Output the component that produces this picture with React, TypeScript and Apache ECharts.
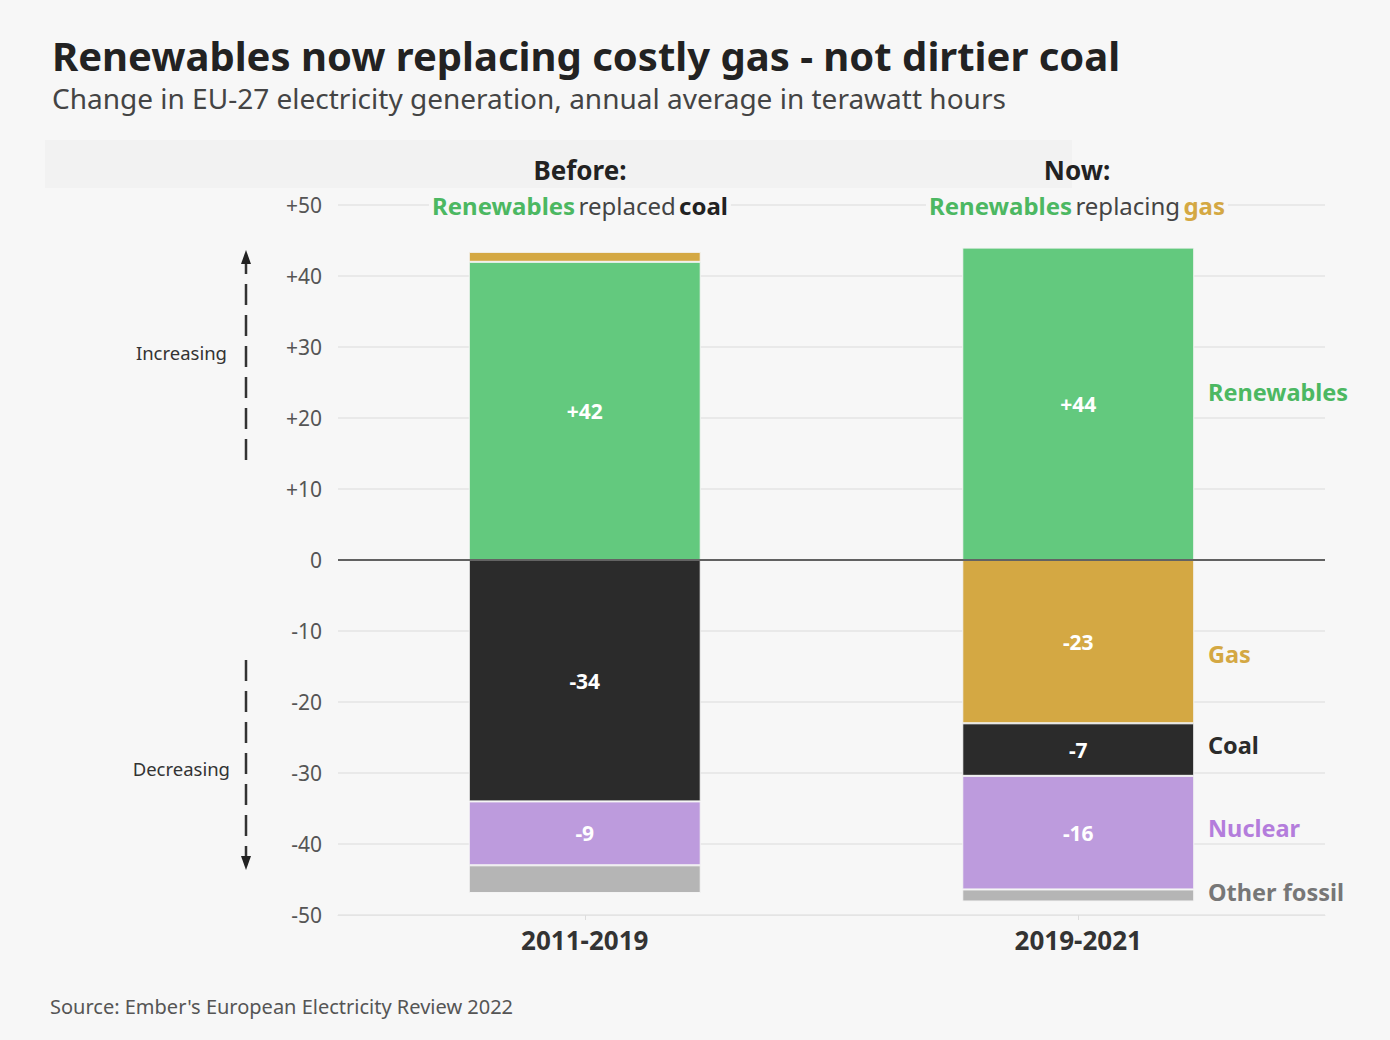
import React, { useEffect, useRef } from "react";
import * as echarts from "echarts";

const periods = ["2011-2019", "2019-2021"];
const renewables = [42, 44];
const gas = [1.4, -23];
const coal = [-34, -7.4];
const nuclear = [-9, -16];
const otherFossil = [-3.9, -1.7];
const yTicks = [-50, -40, -30, -20, -10, 0, 10, 20, 30, 40, 50];

const BG = "#f7f7f7";
const GREEN = "#63c97e";
const GREEN_T = "#4cb862";
const GOLD = "#d4a843";
const DARK = "#2b2b2b";
const PURPLE = "#bd9bdd";
const PURPLE_T = "#b47ddc";
const GREY = "#b5b5b5";
const FONT = "'Noto Sans', Lato, sans-serif";

export default function App() {
  const ref = useRef<HTMLDivElement>(null);
  useEffect(() => {
    document.body.style.margin = "0";
    const chart = echarts.init(ref.current!, null, { renderer: "svg" });
    const labelCfg = {
      show: true,
      position: "inside",
      color: "#fff",
      fontFamily: FONT,
      fontWeight: "bold",
      fontSize: 21,
      formatter: (p: any) => {
        const v = p.value as number;
        if (Math.abs(v) < 5) return "";
        const r = Math.round(v);
        return r > 0 ? "+" + r : String(r);
      },
    };
    const mk = (name: string, data: number[], color: string, extra: any = {}) => ({
      name,
      type: "bar",
      stack: "total",
      data,
      barWidth: "47%",
      itemStyle: { color, borderColor: "#f4f4f4", borderWidth: 1 },
      label: labelCfg,
      ...extra,
    });
    const rightLabel = (text: string, y: number, color: string) => ({
      type: "text",
      style: { text, x: 1208, y, fill: color, font: `bold 23.5px ${FONT}`, textVerticalAlign: "middle" },
    });
    const header = (cx: number, word: string, verb: string, last: string, lastColor: string) => [
      {
        type: "text",
        z: 10,
        style: { text: word, x: cx, y: 170, fill: "#222", font: `bold 26px ${FONT}`, textAlign: "center", textVerticalAlign: "middle" },
      },
      {
        type: "text",
        z: 10,
        style: {
          text: `{g|Renewables} {n|${verb}} {l|${last}}`,
          x: cx,
          y: 205,
          textAlign: "center",
          textVerticalAlign: "middle",
          backgroundColor: BG,
          padding: [0, 3],
          rich: {
            g: { fill: GREEN_T, font: `bold 24px ${FONT}` },
            n: { fill: "#444", font: `24px ${FONT}` },
            l: { fill: lastColor, font: `bold 24px ${FONT}` },
          },
        },
      },
    ];
    const arrowX = 246;
    chart.setOption({
      animation: false,
      backgroundColor: BG,
      textStyle: { fontFamily: FONT },
      title: {
        text: "Renewables now replacing costly gas - not dirtier coal",
        subtext: "Change in EU-27 electricity generation, annual average in terawatt hours",
        left: 47,
        top: 30,
        itemGap: 9,
        textStyle: { fontFamily: FONT, fontWeight: "bold", fontSize: 40, color: "#222" },
        subtextStyle: { fontFamily: FONT, fontSize: 28, color: "#444" },
      },
      grid: { left: 338, right: 65, top: 205, bottom: 125 },
      xAxis: {
        type: "category",
        data: periods,
        axisLine: { onZero: false, lineStyle: { color: "#e4e4e4" } },
        axisTick: { show: true, alignWithLabel: true, length: 5, lineStyle: { color: "#ddd" } },
        axisLabel: { color: "#333", fontSize: 26, fontWeight: "bold", fontFamily: FONT, margin: 12 },
      },
      yAxis: {
        type: "value",
        min: -50,
        max: 50,
        interval: 10,
        axisLine: { show: false },
        axisTick: { show: false },
        splitLine: { lineStyle: { color: "#e4e4e4", width: 1.5 } },
        axisLabel: {
          color: "#555",
          fontSize: 21,
          fontFamily: FONT,
          margin: 16,
          formatter: (v: number) => (yTicks.includes(v) && v > 0 ? "+" + v : String(v)),
        },
      },
      series: [
        mk("Renewables", renewables, GREEN, {
          markLine: {
            silent: true,
            symbol: "none",
            label: { show: false },
            lineStyle: { color: "#333", type: "solid", width: 1.5 },
            data: [{ yAxis: 0 }],
          },
        }),
        mk("Gas", gas, GOLD),
        mk("Coal", coal, DARK),
        mk("Nuclear", nuclear, PURPLE),
        mk("Other fossil", otherFossil, GREY),
      ],
      graphic: [
        { type: "rect", silent: true, z: -1, shape: { x: 45, y: 140, width: 1027, height: 48 }, style: { fill: "#f2f2f2" } },
        ...header(580, "Before:", "replaced", "coal", "#222"),
        ...header(1077, "Now:", "replacing", "gas", GOLD),
        rightLabel("Renewables", 392, GREEN_T),
        rightLabel("Gas", 654, GOLD),
        rightLabel("Coal", 745, DARK),
        rightLabel("Nuclear", 828, PURPLE_T),
        rightLabel("Other fossil", 892, "#777"),
        {
          type: "text",
          style: { text: "Increasing", x: 227, y: 352, fill: "#333", font: `18.5px ${FONT}`, textAlign: "right", textVerticalAlign: "middle" },
        },
        {
          type: "text",
          style: { text: "Decreasing", x: 230, y: 768, fill: "#333", font: `18.5px ${FONT}`, textAlign: "right", textVerticalAlign: "middle" },
        },
        {
          type: "line",
          shape: { x1: arrowX, y1: 460, x2: arrowX, y2: 262 },
          style: { stroke: "#333", lineWidth: 2.5, lineDash: [21, 10] },
        },
        {
          type: "polygon",
          shape: { points: [[arrowX - 5, 264], [arrowX + 5, 264], [arrowX, 250]] },
          style: { fill: "#222" },
        },
        {
          type: "line",
          shape: { x1: arrowX, y1: 660, x2: arrowX, y2: 858 },
          style: { stroke: "#333", lineWidth: 2.5, lineDash: [21, 10] },
        },
        {
          type: "polygon",
          shape: { points: [[arrowX - 5, 856], [arrowX + 5, 856], [arrowX, 870]] },
          style: { fill: "#222" },
        },
        {
          type: "text",
          style: { text: "Source: Ember's European Electricity Review 2022", x: 50, y: 1006, fill: "#555", font: `20px ${FONT}`, textVerticalAlign: "middle" },
        },
      ],
    });
    return () => chart.dispose();
  }, []);
  return <div ref={ref} style={{ width: 1390, height: 1040 }} />;
}
